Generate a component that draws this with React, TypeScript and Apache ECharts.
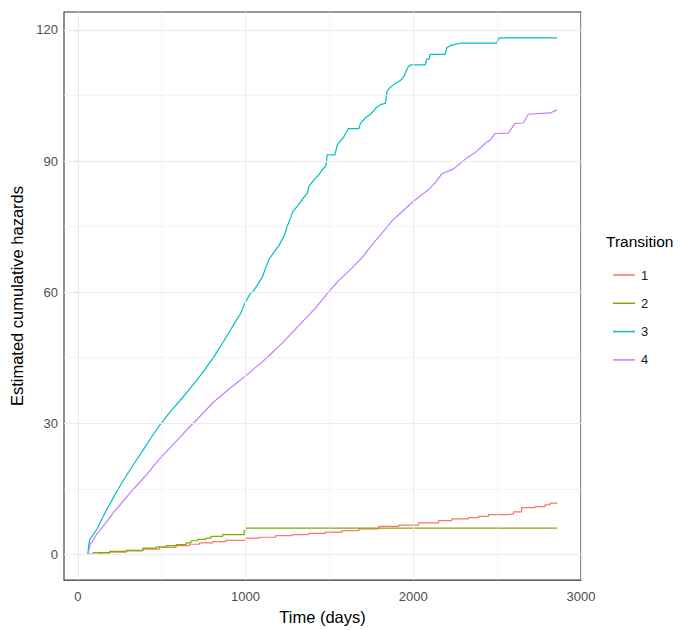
import React, { useEffect, useRef } from "react";
import * as echarts from "echarts";

// ---- data ----
const seriesNames = ["1", "2", "3", "4"];
const seriesColors = ["#F8766D", "#7CAE00", "#00BFC4", "#C77CFF"];

// Transition 1 (time in days, cumulative hazard)
const transition1: [number, number][] = [
  [60, 0], [131, 0.3], [190, 0.5], [289, 0.8], [388, 1.2], [487, 1.6], [586, 2.0],
  [665, 2.3], [725, 2.6], [804, 2.9], [883, 3.2], [1002, 3.7], [1081, 3.9], [1180, 4.3],
  [1280, 4.5], [1378, 4.8], [1477, 5.1], [1576, 5.4], [1676, 5.8], [1794, 6.4],
  [1913, 6.7], [2032, 7.2], [2151, 7.7], [2230, 8.1], [2329, 8.4], [2389, 8.7],
  [2448, 9.1], [2567, 9.2], [2597, 9.7], [2646, 10.7], [2725, 10.9], [2785, 11.3],
  [2815, 11.7], [2858, 11.7],
];

// Transition 2
const transition2: [number, number][] = [
  [58, 0], [93, 0.38], [190, 0.68], [289, 0.9], [388, 1.4], [467, 1.7], [527, 2.0],
  [586, 2.2], [646, 2.6], [675, 3.1], [715, 3.4], [764, 3.7], [794, 4.1], [863, 4.5],
  [992, 5.4], [1002, 6.0], [2858, 6.0],
];

// Transition 3
const transition3: [number, number][] = [
  [60, 0], [65, 2.0], [72, 3.4], [115, 5.8], [145, 8.2], [174, 10.3], [204, 12.4],
  [234, 14.5], [273, 17.0], [313, 19.4], [352, 21.7], [392, 24.0], [441, 26.9],
  [491, 29.7], [551, 32.6], [610, 35.2], [660, 37.5], [709, 39.8], [759, 42.4],
  [808, 45.0], [858, 48.0], [907, 51.1], [947, 53.7], [970, 55.0], [992, 57.1],
  [1022, 59.3], [1052, 60.5], [1101, 63.5], [1111, 64.6], [1141, 67.6], [1171, 69.2],
  [1200, 70.7], [1230, 72.9], [1250, 75.2], [1270, 77.1], [1279, 78.2], [1309, 79.7],
  [1339, 81.2], [1369, 82.7], [1378, 84.2], [1408, 85.7], [1438, 86.9], [1458, 88.0],
  [1477, 88.8], [1482, 89.5], [1487, 91.4], [1533, 91.4], [1547, 93.7], [1586, 95.5],
  [1612, 97.4], [1676, 97.4], [1685, 98.6], [1715, 99.9], [1745, 100.7], [1775, 102.0],
  [1804, 102.9], [1834, 103.2], [1844, 106.0], [1864, 106.9], [1888, 107.6],
  [1923, 108.4], [1943, 109.3], [1967, 111.4], [1983, 112.0], [2072, 112.0],
  [2080, 113.3], [2095, 113.3], [2100, 114.4], [2190, 114.4], [2200, 115.9],
  [2220, 116.4], [2286, 117.0], [2497, 117.0], [2513, 118.2], [2858, 118.2],
];

// Transition 4
const transition4: [number, number][] = [
  [60, 0], [75, 2.4], [85, 2.8], [115, 4.7], [165, 7.1], [214, 9.6], [263, 11.8],
  [313, 14.1], [363, 16.2], [412, 18.3], [462, 20.7], [511, 22.8], [561, 24.8],
  [610, 26.8], [660, 28.9], [709, 30.8], [759, 32.8], [808, 34.8], [858, 36.4],
  [907, 38.0], [956, 39.5], [1006, 41.0], [1055, 42.6], [1105, 44.2], [1141, 45.5],
  [1220, 48.4], [1319, 52.4], [1418, 56.4], [1497, 60.1], [1557, 62.7], [1616, 64.8],
  [1695, 67.9], [1735, 69.9], [1775, 71.8], [1834, 74.4], [1873, 76.3], [1933, 78.4],
  [1992, 80.5], [2042, 82.0], [2092, 83.5], [2131, 85.0], [2171, 87.1], [2240, 88.2],
  [2280, 89.5], [2329, 91.0], [2378, 92.2], [2428, 94.0], [2458, 94.8], [2488, 96.3],
  [2567, 96.4], [2607, 98.6], [2656, 98.7], [2686, 100.7], [2815, 101.0], [2858, 101.7],
];

const xTicks = [0, 1000, 2000, 3000];
const xMinor = [500, 1500, 2500];
const yTicks = [0, 30, 60, 90, 120];
const yMinor = [15, 45, 75, 105];

const xTitle = "Time (days)";
const yTitle = "Estimated cumulative hazards";
const legendTitle = "Transition";

export default function App() {
  const ref = useRef<HTMLDivElement>(null);

  useEffect(() => {
    if (!ref.current) return;
    const chart = echarts.init(ref.current, undefined, { renderer: "svg" });
    const font = "'Liberation Sans', Arial, sans-serif";
    const allData = [transition1, transition2, transition3, transition4];
    const stepped = [true, true, false, false];

    const gridLines: any[] = [];
    xTicks.forEach((v) => gridLines.push({ xAxis: v, lineStyle: { width: 1.1 } }));
    xMinor.forEach((v) => gridLines.push({ xAxis: v, lineStyle: { width: 0.55 } }));
    yTicks.forEach((v) => gridLines.push({ yAxis: v, lineStyle: { width: 1.1 } }));
    yMinor.forEach((v) => gridLines.push({ yAxis: v, lineStyle: { width: 0.55 } }));

    chart.setOption({
      animation: false,
      backgroundColor: "#ffffff",
      textStyle: { fontFamily: font },
      grid: {
        left: 64,
        top: 12,
        width: 517,
        height: 572,
        show: true,
        borderColor: "#333333",
        borderWidth: 1.1,
        backgroundColor: "transparent",
        z: 3,
      },
      xAxis: {
        type: "value",
        min: -82,
        max: 3000,
        axisLine: { show: false },
        splitLine: { show: false },
        axisTick: {
          show: true,
          customValues: xTicks,
          length: 4,
          lineStyle: { color: "#333333", width: 1.1 },
        },
        axisLabel: {
          customValues: xTicks,
          formatter: (v: number) => String(v),
          color: "#4D4D4D",
          fontSize: 13,
          fontFamily: font,
          margin: 10,
        },
        name: xTitle,
        nameLocation: "middle",
        nameGap: 27,
        nameTextStyle: { color: "#000000", fontSize: 16.5, fontFamily: font },
      },
      yAxis: {
        type: "value",
        min: -5.9,
        max: 124.1,
        axisLine: { show: false },
        splitLine: { show: false },
        axisTick: {
          show: true,
          customValues: yTicks,
          length: 4,
          lineStyle: { color: "#333333", width: 1.1 },
        },
        axisLabel: {
          customValues: yTicks,
          formatter: (v: number) => String(v),
          color: "#4D4D4D",
          fontSize: 13,
          fontFamily: font,
          margin: 6,
        },
        name: yTitle,
        nameLocation: "middle",
        nameGap: 37,
        nameRotate: 90,
        nameTextStyle: { color: "#000000", fontSize: 16.5, fontFamily: font },
      },
      legend: {
        data: seriesNames,
        orient: "vertical",
        left: 608,
        top: 262,
        icon: "rect",
        itemWidth: 22,
        itemHeight: 1.5,
        itemGap: 12.3,
        textStyle: {
          color: "#1A1A1A",
          fontSize: 13,
          lineHeight: 16,
          fontFamily: font,
          padding: [0, 0, 0, 1],
        },
      },
      graphic: [
        {
          type: "text",
          left: 606,
          top: 233,
          style: {
            text: legendTitle,
            fill: "#000000",
            fontSize: 15.5,
            fontFamily: font,
          },
        },
      ],
      series: [
        {
          type: "line",
          name: "__grid",
          data: [[0, 0]],
          showSymbol: false,
          symbol: "none",
          lineStyle: { opacity: 0 },
          z: 1,
          silent: true,
          markLine: {
            silent: true,
            symbol: ["none", "none"],
            label: { show: false },
            lineStyle: { color: "#EBEBEB", type: "solid", width: 1.1 },
            emphasis: { disabled: true },
            data: gridLines,
          },
        },
        ...seriesNames.map((name, i) => ({
          type: "line",
          name,
          data: allData[i],
          step: stepped[i] ? "end" : false,
          symbol: "none",
          showSymbol: false,
          color: seriesColors[i],
          lineStyle: { color: seriesColors[i], width: 1.2 },
          z: 2,
        })),
      ],
    });

    return () => chart.dispose();
  }, []);

  return (
    <div
      ref={ref}
      style={{ position: "absolute", left: 0, top: 0, width: 682, height: 630, overflow: "hidden" }}
    />
  );
}
